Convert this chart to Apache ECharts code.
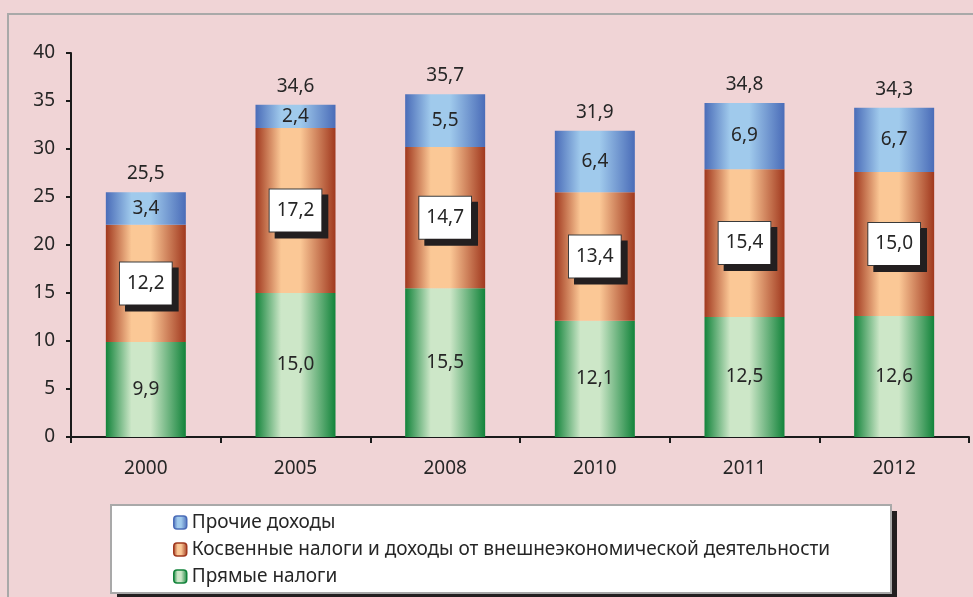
<!DOCTYPE html>
<html>
<head>
<meta charset="utf-8">
<script src="https://cdn.jsdelivr.net/npm/echarts@6/dist/echarts.min.js"></script>
<style>
  html, body { margin: 0; padding: 0; background: #f0d4d6; }
  #chart { width: 973px; height: 597px; }
</style>
</head>
<body>
<div id="chart"></div>
<script>
// годы
const years = ['2000', '2005', '2008', '2010', '2011', '2012'];
// Прямые налоги
const direct = [9.9, 15.0, 15.5, 12.1, 12.5, 12.6];
// Косвенные налоги и доходы от ВЭД
const indirect = [12.2, 17.2, 14.7, 13.4, 15.4, 15.0];
// Прочие доходы
const other = [3.4, 2.4, 5.5, 6.4, 6.9, 6.7];
// итог над столбиком
const totals = [25.5, 34.6, 35.7, 31.9, 34.8, 34.3];

const names = ['Прочие доходы', 'Косвенные налоги и доходы от внешнеэкономической деятельности', 'Прямые налоги'];

const FONT = '"Noto Sans", sans-serif';
const TXT = '#262626';
const FS = 19;

function fmt(v) {
  return v.toFixed(1).replace('.', ',');
}

// горизонтальный градиент: тёмный край - светлая середина - тёмный край
function grad(dark, light) {
  return {
    type: 'linear', x: 0, y: 0, x2: 1, y2: 0,
    colorStops: [
      { offset: 0, color: dark },
      { offset: 0.32, color: light },
      { offset: 0.56, color: light },
      { offset: 1, color: dark }
    ]
  };
}

const blue = grad('#4a6cb8', '#a0caec');
const orange = grad('#a0381e', '#fbc896');
const green = grad('#12833a', '#cde7c8');

const chart = echarts.init(document.getElementById('chart'));

const option = {
  backgroundColor: '#f0d4d6',
  animation: false,
  textStyle: { fontFamily: FONT },
  grid: { left: 71, right: 4, top: 53, bottom: 160 },
  graphic: [
    {
      type: 'rect', z: -10, silent: true,
      shape: { x: 8, y: 14, width: 2000, height: 2000 },
      style: { fill: 'none', stroke: '#a9a9a9', lineWidth: 2 }
    },
    // тень рамки легенды
    {
      type: 'rect', z: 4, silent: true,
      shape: { x: 117, y: 511, width: 780, height: 88 },
      style: { fill: '#231f20' }
    },
    {
      type: 'rect', z: 5, silent: true,
      shape: { x: 111, y: 505, width: 780, height: 88 },
      style: { fill: '#ffffff', stroke: '#a9a9a9', lineWidth: 2 }
    }
  ],
  legend: {
    orient: 'vertical',
    left: 173,
    top: 513,
    z: 10,
    padding: 0,
    itemWidth: 13,
    itemHeight: 13,
    itemGap: 8,
    textStyle: { fontFamily: FONT, fontSize: FS, color: TXT, lineHeight: 19 },
    data: [
      { name: names[0], itemStyle: { borderColor: '#4a6cb8', borderWidth: 1.5 } },
      { name: names[1], itemStyle: { borderColor: '#a0381e', borderWidth: 1.5 } },
      { name: names[2], itemStyle: { borderColor: '#12833a', borderWidth: 1.5 } }
    ]
  },
  xAxis: {
    type: 'category',
    data: years,
    axisLine: { lineStyle: { color: '#1a1a1a', width: 2 } },
    axisTick: { show: true, length: 6, lineStyle: { color: '#1a1a1a', width: 2 } },
    axisLabel: { color: TXT, fontSize: FS, fontFamily: FONT, margin: 22 }
  },
  yAxis: {
    type: 'value',
    min: 0, max: 40, interval: 5,
    splitLine: { show: false },
    axisLine: { show: true, lineStyle: { color: '#1a1a1a', width: 2 } },
    axisTick: { show: true, length: 5, lineStyle: { color: '#1a1a1a', width: 2 } },
    axisLabel: { color: TXT, fontSize: FS, fontFamily: FONT, margin: 16 }
  },
  series: [
    {
      name: names[2], type: 'bar', stack: 'a', barWidth: 80,
      data: direct,
      itemStyle: { color: green },
      label: {
        show: true, position: 'inside', color: TXT, fontSize: FS, fontFamily: FONT,
        formatter: p => fmt(p.value)
      }
    },
    {
      name: names[1], type: 'bar', stack: 'a', barWidth: 80,
      data: indirect,
      itemStyle: { color: orange },
      label: {
        show: true, position: 'inside', color: TXT, fontSize: FS, fontFamily: FONT,
        backgroundColor: '#ffffff', borderColor: '#3a3a3a', borderWidth: 1,
        padding: [12, 7, 11, 7],
        shadowColor: '#231f20', shadowBlur: 0, shadowOffsetX: 6, shadowOffsetY: 6,
        formatter: p => fmt(p.value)
      }
    },
    {
      name: names[0], type: 'bar', stack: 'a', barWidth: 80,
      data: other,
      itemStyle: { color: blue },
      label: {
        show: true, position: 'inside', color: TXT, fontSize: FS, fontFamily: FONT,
        formatter: p => fmt(p.value)
      }
    },
    {
      name: 'Итого', type: 'bar', stack: 'a', barWidth: 80,
      data: years.map(() => 0),
      itemStyle: { color: 'transparent' },
      label: {
        show: true, position: 'top', distance: 9, color: TXT, fontSize: FS, fontFamily: FONT,
        formatter: p => fmt(totals[p.dataIndex])
      }
    }
  ]
};

chart.setOption(option);
</script>
</body>
</html>
